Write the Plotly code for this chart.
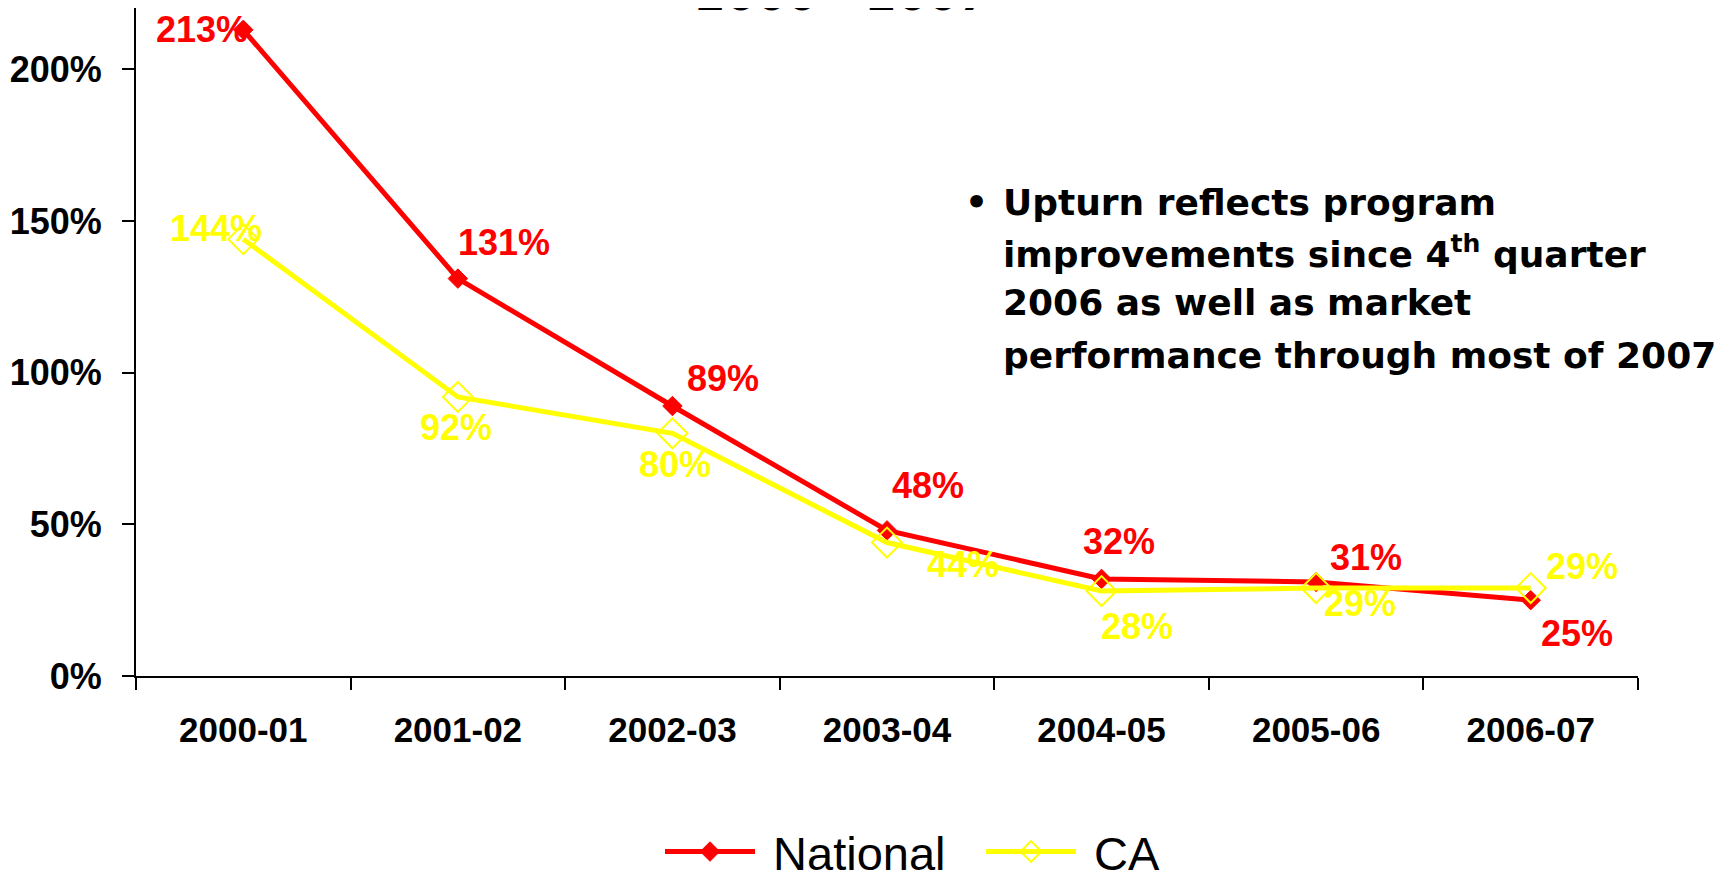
import plotly.graph_objects as go

categories = ["2000-01", "2001-02", "2002-03", "2003-04", "2004-05", "2005-06", "2006-07"]
national = [213, 131, 89, 48, 32, 31, 25]
ca = [144, 92, 80, 44, 28, 29, 29]
y_ticks = [0, 50, 100, 150, 200]
y_tick_labels = [f"{v}%" for v in y_ticks]

note_lines = [
    "Upturn reflects program",
    "improvements since 4<sup>th</sup> quarter",
    "2006 as well as market",
    "performance through most of 2007",
]
title_text = "2000 - 2007"

RED = "#FF0000"
YEL = "#FFFF00"

# page body has an 8px margin; figure sized to fill the rest of the window
OFF = 8
W, H = 1730 - OFF, 877 - OFF
L, R, T, B = 136 - OFF, 92, 0, 201
PW, PH = W - L - R, H - T - B

def px(x):  # screen x -> paper
    return (x - OFF - L) / PW

def py(y):  # screen y -> paper
    return (H - B - (y - OFF)) / PH

fig = go.Figure()
fig.add_trace(go.Scatter(
    x=categories, y=national, name=" National", mode="lines+markers",
    line=dict(color=RED, width=5),
    marker=dict(symbol="diamond", size=15, color=RED, line=dict(color=RED, width=1)),
))
fig.add_trace(go.Scatter(
    x=categories, y=ca, name=" CA", mode="lines+markers",
    line=dict(color=YEL, width=5),
    marker=dict(symbol="diamond-open", size=23, color=YEL, line=dict(color=YEL, width=2)),
))

nat_off = [(-41, 0), (46, 36), (51, 28), (41, 45), (17, 37), (50, 24), (46, -33)]
ca_off = [(-27, 11), (-2, -31), (3, -31), (76, -22), (35, -35), (44, -15), (51, 22)]

annotations = []
lab_font = dict(family="Arial, Liberation Sans, sans-serif", size=36)
for cat, v, (dx, dy) in zip(categories, national, nat_off):
    annotations.append(dict(x=cat, y=v, xref="x", yref="y", text=f"<b>{v}%</b>",
                            showarrow=False, xshift=dx, yshift=dy,
                            font=dict(color=RED, **lab_font)))
for cat, v, (dx, dy) in zip(categories, ca, ca_off):
    annotations.append(dict(x=cat, y=v, xref="x", yref="y", text=f"<b>{v}%</b>",
                            showarrow=False, xshift=dx, yshift=dy,
                            font=dict(color=YEL, **lab_font)))

note_font = dict(family="DejaVu Sans, sans-serif", size=36, color="black")
line_y = [202, 252, 302, 355]
annotations.append(dict(x=px(976), y=py(line_y[0]), xref="paper", yref="paper",
                        text="<b>•</b>", showarrow=False, xanchor="center", yanchor="middle",
                        font=note_font))
for txt, yy in zip(note_lines, line_y):
    annotations.append(dict(x=px(1001), y=py(yy), xref="paper", yref="paper",
                            text=f"<b>{txt}</b>", showarrow=False, xanchor="left",
                            yanchor="middle", font=note_font))

annotations.append(dict(x=px(842), y=py(-6), xref="paper", yref="paper",
                        text=f"<b>{title_text}</b>", showarrow=False, xanchor="center",
                        yanchor="middle", font=dict(family="DejaVu Sans, sans-serif", size=44, color="black")))

fig.update_layout(
    width=W, height=H,
    margin=dict(l=L, r=R, t=T, b=B, pad=0, autoexpand=False),
    paper_bgcolor="white", plot_bgcolor="white",
    showlegend=True,
    legend=dict(orientation="h", x=px(660), y=py(852), xanchor="left", yanchor="middle",
                font=dict(family="Arial, Liberation Sans, sans-serif", size=47, color="black"),
                itemwidth=90, entrywidth=216, entrywidthmode="pixels",
                bgcolor="rgba(0,0,0,0)", tracegroupgap=0),
    annotations=annotations,
    xaxis=dict(
        type="category", range=[-0.5, 6.5], tickson="boundaries", automargin=False,
        showline=True, linecolor="black", linewidth=2,
        ticks="outside", ticklen=12, tickwidth=2, tickcolor="black",
        showgrid=False, zeroline=False,
        tickfont=dict(family="Arial, Liberation Sans, sans-serif", size=35, color="black", weight="bold"),
        ticklabelstandoff=22,
    ),
    yaxis=dict(
        range=[0, 220.2], tickvals=y_ticks, ticktext=y_tick_labels, automargin=False,
        showline=True, linecolor="black", linewidth=2,
        ticks="outside", ticklen=12, tickwidth=2, tickcolor="black",
        showgrid=False, zeroline=False,
        tickfont=dict(family="Arial, Liberation Sans, sans-serif", size=36, color="black", weight="bold"),
        ticklabelstandoff=13,
    ),
)

fig.write_html("out.html")
